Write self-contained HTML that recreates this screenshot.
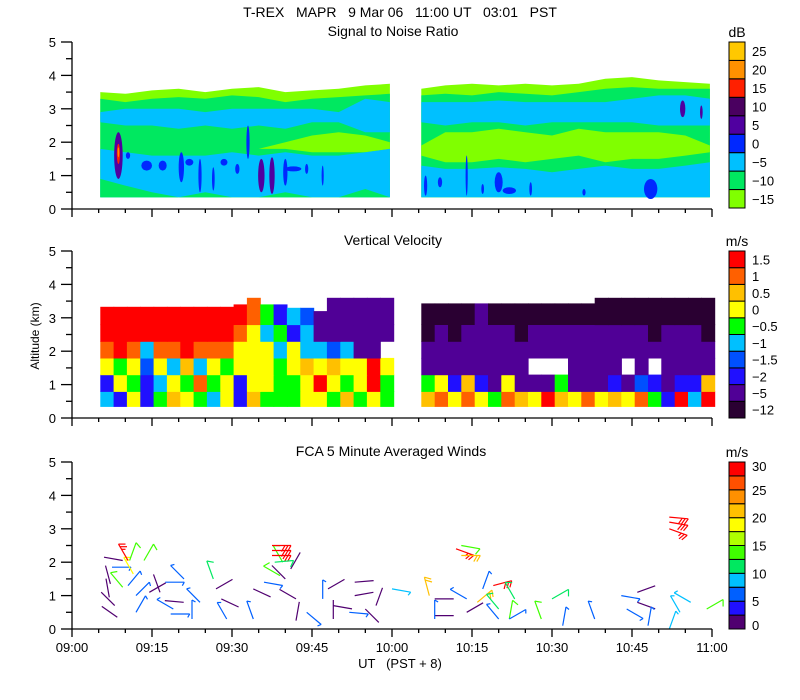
<!DOCTYPE html>
<html><head><meta charset="utf-8"><style>
html,body{margin:0;padding:0;background:#fff;}
svg{display:block;font-family:"Liberation Sans",sans-serif;}
</style></head><body>
<svg id="chart" width="800" height="700" viewBox="0 0 800 700" xmlns="http://www.w3.org/2000/svg">
<text x="400" y="17" text-anchor="middle" font-size="14" xml:space="preserve">T-REX   MAPR   9 Mar 06   11:00 UT   03:01   PST</text>
<text x="393" y="36" text-anchor="middle" font-size="14">Signal to Noise Ratio</text>
<text x="393" y="245" text-anchor="middle" font-size="14">Vertical Velocity</text>
<text x="391" y="456" text-anchor="middle" font-size="14">FCA 5 Minute Averaged Winds</text>
<text x="737" y="37" text-anchor="middle" font-size="14">dB</text>
<text x="737" y="246" text-anchor="middle" font-size="14">m/s</text>
<text x="737" y="457" text-anchor="middle" font-size="14">m/s</text>
<text x="0" y="0" transform="translate(39,336) rotate(-90)" text-anchor="middle" font-size="12">Altitude (km)</text>
<text x="400" y="668" text-anchor="middle" font-size="13" xml:space="preserve">UT   (PST + 8)</text>
<g id="marks"></g>
</svg>
<script>
// ---- axis data ----
const xTickLabels = ["09:00","09:15","09:30","09:45","10:00","10:15","10:30","10:45","11:00"];
const yTickLabels = ["0","1","2","3","4","5"];
const snrLevels = [-15,-10,-5,0,5,10,15,20,25];
const snrColors = ["#80ff00","#00e860","#00c0ff","#0028ff","#5000a0","#4a0060","#ff2000","#ff9000","#ffc800"];
const vvLevels = [-12,-5,-2,-1.5,-1,-0.5,0,0.5,1,1.5];
const vvLabels = ["-12","-5","-2","-1.5","-1","-0.5","0","0.5","1","1.5"];
const vvColors = ["#2a0032","#500096","#2010ff","#0050ff","#00c0ff","#00ff00","#ffff00","#ffc000","#ff6000","#ff0000"];
const windLabels = ["0","5","10","15","20","25","30"];
const windColors = ["#500070","#2010ff","#0060ff","#00c0ff","#00e860","#40ff00","#b0ff00","#ffff00","#ffc000","#ff9000","#ff5000","#ff0000"];

// ---- SNR layer data (segments) ----
const snrT1 = [5.3,10,15,20,25,30,35,40,45,50,55,59.6];
const snrLimeTop1 = [3.5,3.45,3.55,3.6,3.5,3.6,3.65,3.5,3.55,3.6,3.7,3.75];
const snrGreenTop1 = [3.3,3.2,3.3,3.35,3.3,3.4,3.35,3.2,3.3,3.35,3.4,3.45];
const snrCyanUpTop1 = [2.9,3.0,3.0,3.0,2.9,3.0,3.0,3.0,3.0,2.9,3.3,3.2];
const snrCyanUpBot1 = [2.6,2.5,2.5,2.4,2.5,2.4,2.5,2.4,2.6,2.6,2.3,2.3];
const snrLimeMidHi1 = [1.8,1.8,1.7,1.7,1.7,1.8,1.8,2.0,2.2,2.3,2.2,2.0];
const snrLimeMidLo1 = [1.8,1.8,1.7,1.7,1.7,1.8,1.8,1.8,1.7,1.7,1.7,1.8];
const snrCyanLowTop1 = [1.8,1.7,1.6,1.6,1.6,1.7,1.6,1.7,1.6,1.6,1.7,1.8];
const snrGreenLowTop1 = [0.9,0.7,0.5,0.35,0.5,0.35,0.35,0.5,0.35,0.35,0.6,0.35];
const snrT2 = [65.5,70,75,80,85,90,95,100,105,110,115,119.6];
const snrLimeTop2 = [3.6,3.7,3.75,3.7,3.75,3.7,3.75,3.9,3.95,3.85,3.8,3.75];
const snrGreenTop2 = [3.4,3.45,3.4,3.5,3.45,3.4,3.5,3.6,3.65,3.6,3.6,3.6];
const snrCyanUpTop2 = [3.2,3.2,3.2,3.25,3.2,3.2,3.2,3.2,3.3,3.4,3.4,3.3];
const snrCyanUpBot2 = [2.6,2.5,2.6,2.6,2.5,2.6,2.6,2.6,2.6,2.5,2.5,2.5];
const snrLimeMidHi2 = [1.9,2.3,2.3,2.4,2.3,2.2,2.4,2.3,2.3,2.3,2.2,1.9];
const snrLimeMidLo2 = [1.6,1.4,1.4,1.5,1.4,1.5,1.6,1.4,1.5,1.5,1.6,1.7];
const snrCyanLowTop2 = [1.3,1.2,1.2,1.25,1.2,1.1,1.2,1.3,1.2,1.2,1.3,1.4];
// strong-echo blobs
const blobT =   [8.7,8.7,8.7,10.5,14,17,20.5,22,24,26.5,28.5,33,31,35.5,37.5,40,41.5,44,47, 66.3,69,74,77,80,82,86,96,108.5,114.5,118];
const blobAlt = [1.6,1.65,1.7,1.6,1.3,1.3,1.25,1.4,1.0,0.9,1.4,2.0,1.2,1.0,1.0,1.1,1.2,1.2,1.0, 0.7,0.8,1.0,0.6,0.8,0.55,0.6,0.5,0.6,3.0,2.9];
const blobW =   [1.6,0.6,0.3,0.8,2.0,1.5,1.0,1.5,0.6,0.5,1.3,0.6,0.8,1.2,1.0,0.8,3.0,0.6,0.4, 0.6,0.8,0.4,0.5,1.5,2.5,0.5,0.6,2.5,1.0,0.5];
const blobH =   [1.4,0.6,0.3,0.2,0.3,0.3,0.9,0.2,1.0,0.7,0.2,1.0,0.3,1.0,1.1,0.8,0.15,0.3,0.6, 0.6,0.3,1.2,0.3,0.6,0.2,0.4,0.2,0.6,0.5,0.4];
const blobVal = [5,15,20,0,0,0,0,0,0,0,0,0,0,5,5,0,0,0,0, 0,0,0,0,0,0,0,0,0,5,5];

// ---- Vertical velocity grid (rows bottom->top, 22 columns per segment, m/s; null = no data) ----
const vvRowBot = [0.35,0.8,1.3,1.8,2.3,2.8];
const vvRowTop = [0.8,1.3,1.8,2.3,2.8];
const vvTop1 = [3.33,3.33,3.33,3.33,3.33,3.33,3.33,3.33,3.33,3.33,3.4,3.6,3.4,3.4,3.3,3.3,3.2,3.6,3.6,3.6,3.6,3.6];
const vvTop2 = [3.43,3.43,3.43,3.43,3.43,3.43,3.43,3.43,3.43,3.43,3.43,3.43,3.43,3.6,3.6,3.6,3.6,3.6,3.6,3.6,3.6,3.6];
const vvSeg1Row0 = [-1,-2,0,-2,-0.5,0.5,0,-0.5,-1,0,-2,0.5,-0.5,-0.5,-0.5,0,0,-0.5,0.5,-0.5,0,-0.5];
const vvSeg1Row1 = [-2,0,-0.5,-2,-1,0,-0.5,1,-0.5,0,-2,0,0,-0.5,-0.5,0,1.5,0,-0.5,0,1.5,-0.5];
const vvSeg1Row2 = [0,-0.5,0,-1.5,0,-1,0.5,-1,0,-0.5,0,0,0,-0.5,0,0.5,0,0.5,0,0,1.5,0];
const vvSeg1Row3 = [1,1.5,1,-1,1,1,1.5,1,1,1,0,0,0,-1,0,-1,-1,-1.5,-1,-5,-5,null];
const vvSeg1Row4 = [1.5,1.5,1.5,1.5,1.5,1.5,1.5,1.5,1.5,1.5,1,0,-1,-0.5,-2,-1,-5,-5,-5,-5,-5,-5];
const vvSeg1Row5 = [1.5,1.5,1.5,1.5,1.5,1.5,1.5,1.5,1.5,1.5,1.5,1,-0.5,-2,-1,-1.5,-5,-5,-5,-5,-5,-5];
const vvSeg2Row0 = [0.5,1,0,1,0,-0.5,1,0.5,0,1.5,0.5,0,1,0,0.5,0,1,-0.5,-2,1.5,-1,1.5];
const vvSeg2Row1 = [-0.5,0,-2,0.5,-2,-5,0,-5,-5,-5,-0.5,-5,-5,-5,-2,-5,-1.5,-2,-5,-2,-2,0.5];
const vvSeg2Row2 = [-5,-5,-5,-5,-5,-5,-5,-5,null,null,null,-5,-5,-5,-5,null,-5,null,-5,-5,-5,-5];
const vvSeg2Row3 = [-5,-5,-5,-5,-5,-5,-5,-5,-5,-5,-5,-5,-5,-5,-5,-5,-5,-5,-5,-5,-5,-5];
const vvSeg2Row4 = [-12,-5,-12,-5,-5,-5,-5,-12,-5,-5,-5,-5,-5,-5,-5,-5,-5,-12,-5,-5,-5,-12];
const vvSeg2Row5 = [-12,-12,-12,-12,-5,-12,-12,-12,-12,-12,-12,-12,-12,-12,-12,-12,-12,-12,-12,-12,-12,-12];

// ---- Wind barbs: time (min after 09:00), altitude (km), staff direction (deg), speed (m/s) ----
const barbT = [7.5,7.2,9.5,11.5,10.8,10.5,12,14.5,7,8,8.5,12,16.5,17.4,17.5,21,19,18.5,24,22.5,27,26.5,28,29,34,34,36,39,39.5,40,41,42,42,44,48,47,49,49,52,53,53,55,57,60,6,10.5,13.5,37.5,37.5,37.5,38,
  67,68,68,68,74,74,76,77,79,80,80,83,82,82,88,90,92,98,103,104,106,106,108,112,114,116,119,72,73,73,112,112,112];
const barbA = [1.85,1.35,1.25,1.65,2.05,1.3,1.0,1.1,0.95,0.7,0.35,0.5,1.1,0.85,1.4,1.5,0.6,0.45,0.8,0.3,1.2,1.5,0.9,0.3,0.3,1.2,1.4,1.6,2.0,1.5,1.8,0.9,0.25,0.5,1.2,0.9,0.7,0.3,0.5,1.4,1.0,0.6,0.7,1.2,2.15,2.05,2.05,2.5,2.35,2.2,2.0,
  1.0,0.9,0.4,0.3,0.9,0.5,0.8,1.2,1.3,0.6,0.3,0.9,0.3,0.3,0.3,0.9,0.1,0.3,1.0,0.6,1.1,0.8,0.1,0.0,0.5,0.8,0.6,2.4,2.5,2.2,3.35,3.2,3.0];
const barbD = [90,345,320,330,20,40,45,60,350,315,305,30,340,95,90,315,300,90,315,0,60,340,115,330,340,115,100,300,330,315,30,300,10,130,60,0,100,0,95,85,80,135,20,100,100,330,30,90,90,90,85,
  345,90,90,0,300,60,50,20,75,320,320,330,10,60,340,60,10,340,100,120,70,110,10,20,330,300,60,110,100,90,95,100,110];
const barbS = [6,2,13,18,13,7,7,2,2,2,2,7,2,2,6,6,6,6,6,6,2,10,2,6,6,2,6,14,14,2,2,2,2,6,2,6,2,2,6,2,2,2,2,9,2,28,14,30,30,28,12,
  20,2,2,6,6,2,20,6,30,10,6,10,14,6,14,10,6,6,6,6,2,2,6,9,9,9,14,28,14,22,30,30,28];

const svg = document.getElementById('chart');
const marks = document.getElementById('marks');
const NS = "http://www.w3.org/2000/svg";
const bases = [209,418,629];
const KM = 33.4;
const X = t => 72 + t*16/3;
const Y = (p,a) => bases[p] - a*KM;
function mk(tag, attrs, parent){
  const e = document.createElementNS(NS, tag);
  for (const k in attrs) e.setAttribute(k, attrs[k]);
  (parent||marks).appendChild(e);
  return e;
}
function nearestIdx(levels, v){
  let bi=0, bd=1e9;
  levels.forEach((l,i)=>{const d=Math.abs(l-v); if(d<bd){bd=d;bi=i;}});
  return bi;
}
function band(p, ts, lo, hi, color, name){
  let pts=[];
  ts.forEach((t,i)=>pts.push(X(t).toFixed(1)+","+Y(p,hi[i]).toFixed(1)));
  for(let i=ts.length-1;i>=0;i--) pts.push(X(ts[i]).toFixed(1)+","+Y(p,lo[i]).toFixed(1));
  const e = mk('polygon',{points:pts.join(' '),fill:color});
  
  
}
const base035 = new Array(12).fill(0.35);

// ---- SNR panel ----
[[snrT1,snrLimeTop1,snrGreenTop1,snrCyanUpTop1,snrCyanUpBot1,snrLimeMidHi1,snrLimeMidLo1,snrCyanLowTop1,snrGreenLowTop1],
 [snrT2,snrLimeTop2,snrGreenTop2,snrCyanUpTop2,snrCyanUpBot2,snrLimeMidHi2,snrLimeMidLo2,snrCyanLowTop2,null]].forEach((s,si)=>{
  band(0,s[0],base035,s[1],snrColors[0],'snr-band-lime-'+si);
  band(0,s[0],base035,s[2],snrColors[1],'snr-band-green-'+si);
  band(0,s[0],s[4],s[3],snrColors[2],'snr-band-cyan-upper-'+si);
  band(0,s[0],s[6],s[5],snrColors[0],'snr-band-lime-mid-'+si);
  band(0,s[0],base035,s[7],snrColors[2],'snr-band-cyan-lower-'+si);
  if(s[8]) band(0,s[0],base035,s[8],snrColors[1],'snr-band-green-low-'+si);
});
blobT.forEach((t,i)=>{
  const e = mk('ellipse',{cx:X(t),cy:Y(0,blobAlt[i]),rx:blobW[i]*8/3,ry:blobH[i]*KM/2,fill:snrColors[nearestIdx(snrLevels,blobVal[i])]});
  
  
});

// ---- Vertical velocity panel ----
function vvSeg(t0, rows, tops, si){
  const cw = 2.5*16/3;
  rows.forEach((row,ri)=>{
    row.forEach((v,ci)=>{
      if(v===null) return;
      const lo = vvRowBot[ri];
      const hi = ri<vvRowTop.length ? vvRowTop[ri] : tops[ci];
      const x = X(t0 + ci*2.5);
      const r = mk('rect',{x:x.toFixed(1),y:Y(1,hi).toFixed(1),width:(cw+0.6).toFixed(1),height:((hi-lo)*KM+0.6).toFixed(1),fill:vvColors[nearestIdx(vvLevels,v)]});
      
      
    });
  });
}
vvSeg(5.3,[vvSeg1Row0,vvSeg1Row1,vvSeg1Row2,vvSeg1Row3,vvSeg1Row4,vvSeg1Row5],vvTop1,1);
vvSeg(65.5,[vvSeg2Row0,vvSeg2Row1,vvSeg2Row2,vvSeg2Row3,vvSeg2Row4,vvSeg2Row5],vvTop2,2);

// ---- Wind barbs ----
barbT.forEach((t,i)=>{
  const s = barbS[i];
  const col = windColors[Math.min(11,Math.floor(s/2.5))];
  const g = mk('g',{stroke:col,'stroke-width':1.2,fill:'none'});
  
  
  const x0 = X(t), y0 = Y(2,barbA[i]);
  const a = barbD[i]*Math.PI/180;
  const ux = Math.sin(a), uy = -Math.cos(a);
  const L = 19;
  const x1 = x0+ux*L, y1 = y0+uy*L;
  mk('line',{x1:x0.toFixed(1),y1:y0.toFixed(1),x2:x1.toFixed(1),y2:y1.toFixed(1)},g);
  let full = Math.floor(s/10), half = (s%10)>=5 ? 1 : 0;
  const fa = a + Math.PI*2/3;
  const fx = Math.sin(fa), fy = -Math.cos(fa);
  let k=0;
  for(let f=0; f<full+half; f++){
    const len = f<full ? 7 : 4;
    const bx = x1-ux*3*k, by = y1-uy*3*k;
    mk('line',{x1:bx.toFixed(1),y1:by.toFixed(1),x2:(bx+fx*len).toFixed(1),y2:(by+fy*len).toFixed(1)},g);
    k++;
  }
});

// ---- Axes ----
const axes = mk('g',{stroke:'#000','stroke-width':1.3,fill:'none'});


bases.forEach((b,p)=>{
  const top = b - 5*KM;
  mk('line',{x1:72,y1:top,x2:72,y2:b},axes);
  mk('line',{x1:72,y1:b,x2:712,y2:b},axes);
  for(let h=0; h<=10; h++){
    const y = b - h*KM/2;
    mk('line',{x1:h%2?66:61,y1:y,x2:72,y2:y},axes);
  }
  for(let m=0; m<=24; m++){
    const x = 72 + m*80/3;
    mk('line',{x1:x,y1:b,x2:x,y2:b+(m%3?4:8)},axes);
  }
  yTickLabels.forEach((lab,i)=>{
    const t = mk('text',{x:56,y:b-i*KM+5,'text-anchor':'end','font-size':13,fill:'#000',stroke:'none'});
    t.textContent = lab;
    
    
  });
});
xTickLabels.forEach((lab,i)=>{
  const t = mk('text',{x:72+i*80,y:652,'text-anchor':'middle','font-size':13,fill:'#000'});
  t.textContent = lab;
  
  
});

// ---- Colorbars ----
function colorbar(top, bottom, colors, labels, labelPos, name){
  const g = mk('g',{});
  
  
  const n = colors.length, h = (bottom-top)/n;
  colors.forEach((c,i)=>{
    mk('rect',{x:729,y:(bottom-(i+1)*h).toFixed(1),width:16,height:h.toFixed(1),fill:c,stroke:'#000','stroke-width':1},g);
  });
  labels.forEach((lab,i)=>{
    const t = mk('text',{x:752,y:(bottom - labelPos[i]*h + 5).toFixed(1),'font-size':13,fill:'#000'},g);
    t.textContent = lab.replace('-','\u2212');
  });
}
colorbar(42,208,snrColors,snrLevels.map(String),snrLevels.map((v,i)=>i+0.5),'snr-colorbar');
colorbar(251,418,vvColors,vvLabels,vvLabels.map((v,i)=>i+0.5),'vv-colorbar');
colorbar(462,629,windColors,windLabels,windLabels.map((v,i)=>Math.min(11.7,Math.max(0.3,i*2))),'wind-colorbar');
</script>
</body></html>
